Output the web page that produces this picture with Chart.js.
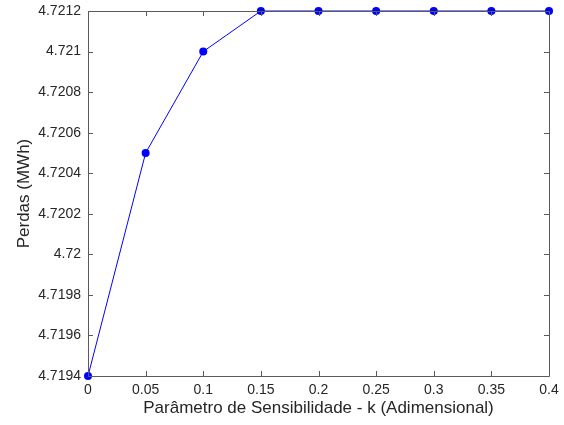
<!DOCTYPE html>
<html>
<head>
<meta charset="utf-8">
<script src="https://cdn.jsdelivr.net/npm/chart.js@4"></script>
<style>
  html, body { margin: 0; padding: 0; background: #fff; }
  #wrap { width: 564px; height: 425px; }
</style>
</head>
<body>
<div id="wrap"><canvas id="perdas-chart" width="564" height="425"></canvas></div>
<script>
// Perdas vs parâmetro de sensibilidade
const kValues = [0, 0.05, 0.1, 0.15, 0.2, 0.25, 0.3, 0.35, 0.4];
const perdasValues = [4.7194, 4.7205, 4.721, 4.7212, 4.7212, 4.7212, 4.7212, 4.7212, 4.7212];
const xTicks = [0, 0.05, 0.1, 0.15, 0.2, 0.25, 0.3, 0.35, 0.4];
const yTicks = [4.7194, 4.7196, 4.7198, 4.72, 4.7202, 4.7204, 4.7206, 4.7208, 4.721, 4.7212];

const axisColor = "#5a5a5a";
const textColor = "#262626";
const fontFamily = "'Liberation Sans', Arial, Helvetica, sans-serif";

// MATLAB style box with ticks pointing inward
const boxAxesPlugin = {
  id: "boxAxes",
  afterDatasetsDraw(chart) {
    const { ctx, chartArea: a, scales } = chart;
    const len = 5;
    ctx.save();
    ctx.strokeStyle = axisColor;
    ctx.lineWidth = 1;
    ctx.beginPath();
    ctx.rect(Math.round(a.left) + 0.5, Math.round(a.top) + 0.5,
      Math.round(a.right - a.left), Math.round(a.bottom - a.top));
    scales.x.ticks.forEach((t) => {
      const px = Math.round(scales.x.getPixelForValue(t.value)) + 0.5;
      ctx.moveTo(px, a.bottom);
      ctx.lineTo(px, a.bottom - len);
      ctx.moveTo(px, a.top);
      ctx.lineTo(px, a.top + len);
    });
    scales.y.ticks.forEach((t) => {
      const py = Math.round(scales.y.getPixelForValue(t.value)) + 0.5;
      ctx.moveTo(a.left, py);
      ctx.lineTo(a.left + len, py);
      ctx.moveTo(a.right, py);
      ctx.lineTo(a.right - len, py);
    });
    ctx.stroke();
    ctx.restore();
  },
};

const ctx = document.getElementById("perdas-chart").getContext("2d");

new Chart(ctx, {
  type: "line",
  data: {
    labels: kValues,
    datasets: [
      {
        data: kValues.map((k, i) => ({ x: k, y: perdasValues[i] })),
        borderColor: "#0000ff",
        backgroundColor: "#0000ff",
        borderWidth: 1,
        pointRadius: 4,
        pointHoverRadius: 4,
        pointBorderWidth: 0,
        tension: 0,
        clip: false,
      },
    ],
  },
  options: {
    responsive: false,
    animation: false,
    events: [],
    layout: { padding: { top: 11, right: 15, left: 0, bottom: 0 } },
    plugins: {
      legend: { display: false },
      tooltip: { enabled: false },
    },
    scales: {
      x: {
        type: "linear",
        min: 0,
        max: 0.4,
        afterBuildTicks: (scale) => {
          scale.ticks = xTicks.map((v) => ({ value: v }));
        },
        afterFit: (scale) => {
          scale.height = 49;
          scale.paddingLeft = 0;
          scale.paddingRight = 0;
        },
        grid: { display: false, drawTicks: false },
        border: { display: false },
        ticks: {
          padding: 6,
          color: textColor,
          font: { family: fontFamily, size: 14 },
          maxRotation: 0,
          autoSkip: false,
          callback: (v) => String(Number(v.toFixed(2))),
        },
        title: {
          display: true,
          text: "Parâmetro de Sensibilidade - k (Adimensional)",
          color: textColor,
          font: { family: fontFamily, size: 17 },
          padding: { top: 0, bottom: 6 },
        },
      },
      y: {
        type: "linear",
        min: 4.7194,
        max: 4.7212,
        afterBuildTicks: (scale) => {
          scale.ticks = yTicks.map((v) => ({ value: v }));
        },
        afterFit: (scale) => {
          scale.width = 88;
          scale.paddingTop = 0;
          scale.paddingBottom = 0;
        },
        grid: { display: false, drawTicks: false },
        border: { display: false },
        ticks: {
          padding: 7,
          color: textColor,
          font: { family: fontFamily, size: 14 },
          autoSkip: false,
          callback: (v) => String(Number(v.toFixed(4))),
        },
        title: {
          display: true,
          text: "Perdas (MWh)",
          color: textColor,
          font: { family: fontFamily, size: 17 },
          padding: { top: 14, bottom: 0 },
        },
      },
    },
  },
  plugins: [boxAxesPlugin],
});
</script>
</body>
</html>
